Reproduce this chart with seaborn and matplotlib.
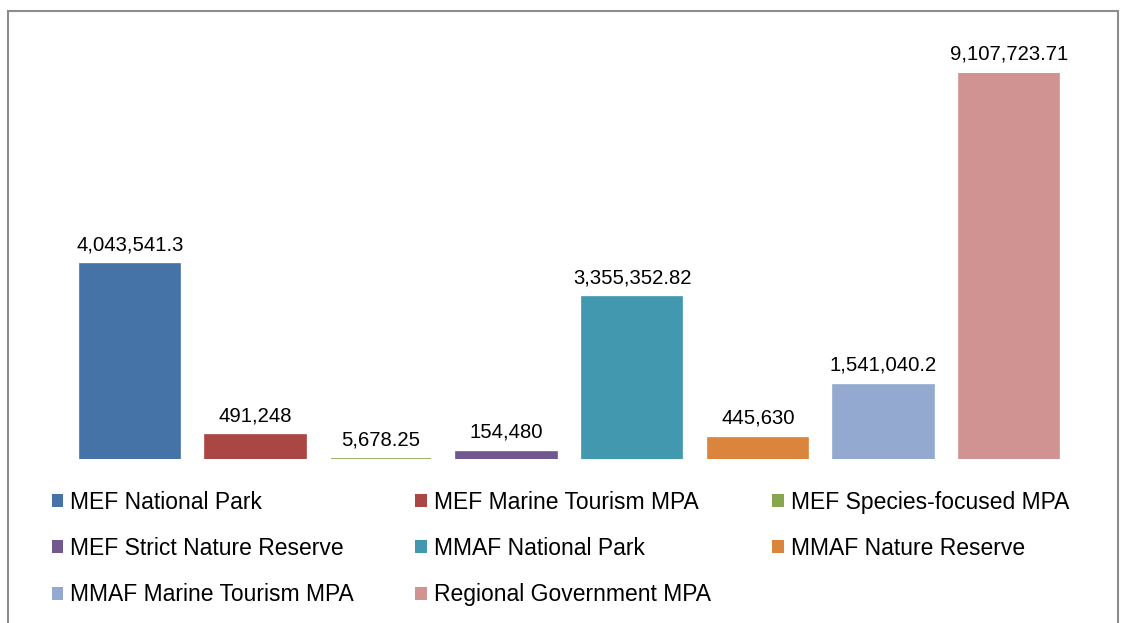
import matplotlib
matplotlib.use("Agg")
import matplotlib.pyplot as plt
import seaborn as sns
import pandas as pd
from matplotlib.patches import Patch, Rectangle

categories = ["MEF National Park", "MEF Marine Tourism MPA", "MEF Species-focused MPA",
              "MEF Strict Nature Reserve", "MMAF National Park", "MMAF Nature Reserve",
              "MMAF Marine Tourism MPA", "Regional Government MPA"]
values = [4043541.3, 491248, 5678.25, 154480, 3355352.82, 445630, 1541040.2, 9107723.71]
value_labels = ["4,043,541.3", "491,248", "5,678.25", "154,480", "3,355,352.82",
                "445,630", "1,541,040.2", "9,107,723.71"]
colors = ["#4572A7", "#AA4643", "#89A54E", "#71588F", "#4198AF", "#DB843D", "#93A9CF", "#D19392"]

sns.set_style("white")
plt.rcParams["font.family"] = ["Liberation Sans", "DejaVu Sans"]
plt.rcParams["text.color"] = "black"

df = pd.DataFrame({"cat": categories, "val": values})

fig = plt.figure(figsize=(11.24, 6.23), dpi=100)
ax = fig.add_axes([0.0596, 0.2632, 0.894, 0.6196])
sns.barplot(data=df, x="cat", y="val", hue="cat", palette=colors, order=categories,
            hue_order=categories, dodge=False, width=0.8, legend=False, ax=ax, saturation=1)
# outline in the bar colour so the tiny bar still shows as a line
for p in ax.patches:
    p.set_edgecolor(p.get_facecolor())
    p.set_linewidth(1.2)

ymax = 8_000_000
ax.set_ylim(0, ymax)
ax.set_xlim(-0.5, len(categories) - 0.5)
for i, (v, lab) in enumerate(zip(values, value_labels)):
    y = min(v, ymax)
    ax.annotate(lab, (i, y), xytext=(0, 7), textcoords="offset points",
                ha="center", va="bottom", fontsize=14.6, color="black",
                annotation_clip=False)

ax.set_axis_off()

# legend along the bottom, 3 columns filled row by row
handles = [Patch(facecolor=c, edgecolor="none") for c in colors]
order = [0, 3, 6, 1, 4, 7, 2, 5]
fig.legend([handles[k] for k in order], [categories[k] for k in order],
           loc="upper left", ncol=3, frameon=False,
           bbox_to_anchor=(0.046, 0.212, 0.905, 0.0), mode="expand",
           fontsize=16.5, handlelength=0.5, handleheight=0.5, handletextpad=0.3,
           labelspacing=1.01, borderaxespad=0, borderpad=0, labelcolor="black")

# outer chart frame
fig.patches.append(Rectangle((8 / 1124, -0.05), (1118 - 8) / 1124, 1.05 - 11 / 623,
                             transform=fig.transFigure, fill=False,
                             edgecolor="#8c8c8c", linewidth=1.5))

fig.savefig("out.png", dpi=100)
